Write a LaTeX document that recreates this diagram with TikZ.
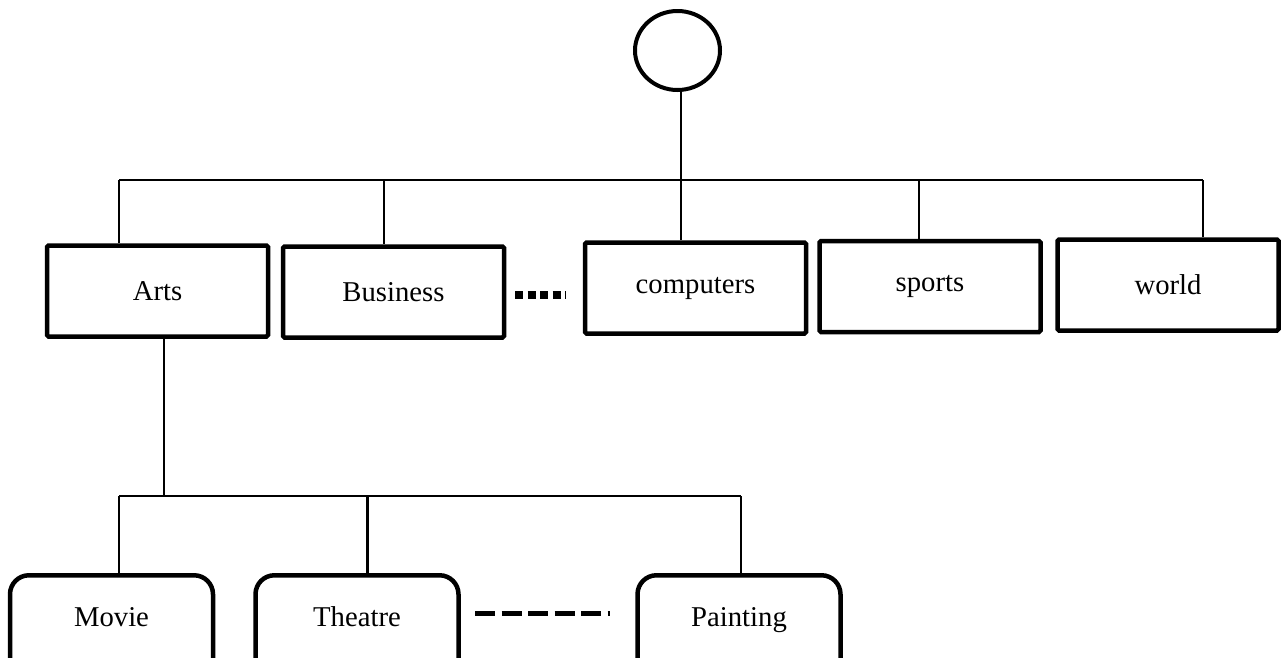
\documentclass[tikz,border=0pt]{standalone}
\usepackage{fontspec}
\setmainfont{Liberation Serif}
\usetikzlibrary{shapes.geometric}
\begin{document}
\begin{tikzpicture}[x=1pt,y=-1pt,
  conn/.style={line width=2.7pt},
  labelfont/.style={font=\fontsize{28.7}{34}\selectfont},
  rootnode/.style={draw,ellipse,line width=4pt,minimum width=85pt,minimum height=79pt,inner sep=0pt},
  topbox/.style={draw,rectangle,line width=4.5pt,rounded corners=1.5pt,
    minimum width=221pt,minimum height=91pt,inner sep=0pt,labelfont},
  leafbox/.style={draw,rectangle,line width=4.5pt,rounded corners=19pt,
    minimum width=203pt,inner xsep=0pt,inner ysep=0pt,
    text height=50.75pt,text depth=100pt,anchor=base,labelfont},
  ellipsisdots/.style={line width=8pt,dash pattern=on 8pt off 4.5pt},
  ellipsisdash/.style={line width=5pt,dash pattern=on 20pt off 6.5pt},
]
\useasboundingbox (0,0) rectangle (1287,657);
\clip (0,0) rectangle (1287,657);

% root of the hierarchy
\node[rootnode] (root) at (677.5,50.5) {};

% first level categories
\node[topbox] (arts)  at (157.5,291) {Arts};
\node[topbox] (bus)   at (393.5,292) {Business};
\node[topbox] (comp)  at (695.5,288) {computers};
\node[topbox] (sport) at (930,286.5) {sports};
\node[topbox] (world) at (1168,285)  {world};

% second level categories under Arts
\node[leafbox] (movie)   at (111.5,626) {Movie};
\node[leafbox] (theatre) at (357,626)   {Theatre};
\node[leafbox] (paint)   at (739,626)   {Painting};

% junction points on the first level bar
\coordinate (jA) at (119,180);
\coordinate (jB) at (384,180);
\coordinate (jS) at (919,180);
\coordinate (jW) at (1203,180);

% junction points on the second level bar
\coordinate (kA) at (164,496);
\coordinate (kM) at (119,496);
\coordinate (kT) at (367.5,496);
\coordinate (kP) at (741,496);

% first level tree
\draw[conn] (jA) -- (jW);
\draw[conn] ([xshift=3.5pt]root.south) -- ([xshift=3.5pt]root.south |- comp.north);
\draw[conn] (jA) -- (jA |- arts.north);
\draw[conn] (jB) -- (jB |- bus.north);
\draw[conn] (jS) -- (jS |- sport.north);
\draw[conn] (jW) -- (jW |- world.north);

% second level tree
\draw[conn] (kA |- arts.south) -- (kA);
\draw[conn] (kM) -- (kP);
\draw[conn] (kM) -- (kM |- movie.north);
\draw[conn] (kT) -- (kT |- theatre.north);
\draw[conn] (kP) -- (kP |- paint.north);

% omitted siblings
\coordinate (e1) at (515,295);
\coordinate (e2) at (566,295);
\draw[ellipsisdots] (e1) -- (e2);
\coordinate (f1) at (475,613);
\coordinate (f2) at (610,613);
\draw[ellipsisdash] (f1) -- (f2);
\end{tikzpicture}
\end{document}
